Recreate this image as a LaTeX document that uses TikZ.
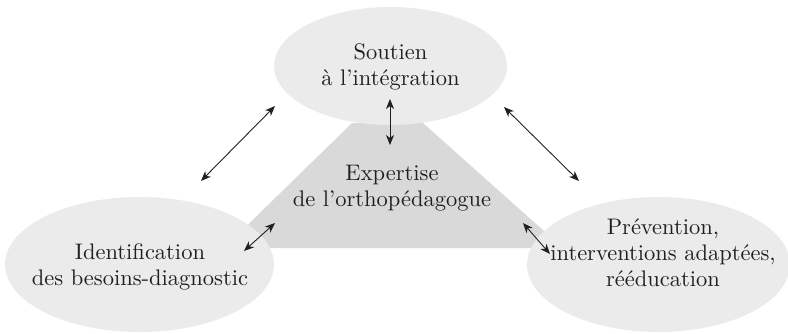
\documentclass[tikz,border=0pt]{standalone}
\usepackage{fontspec}
\setmainfont{lmroman10-regular.otf}
\usetikzlibrary{arrows.meta,shapes.geometric}
\definecolor{ellgray}{RGB}{235,235,235}
\definecolor{trapgray}{RGB}{217,217,218}
\definecolor{inkc}{RGB}{35,31,32}
\begin{document}
\begin{tikzpicture}[x=1pt,y=-1pt,
  bub/.style={ellipse, fill=ellgray, inner sep=0pt},
  lbl/.style={align=center, font=\fontsize{22.5}{26}\selectfont, inner sep=0pt, text=inkc},
  link/.style={{Stealth[length=10pt,width=8pt,inset=3pt]}-{Stealth[length=10pt,width=8pt,inset=3pt]}, line width=0.9pt, draw=inkc}]
\useasboundingbox (0,0) rectangle (788,333);
% central trapezoid
\fill[trapgray] (352,123) -- (423,123) -- (563,248) -- (224,248) -- cycle;
% ellipses
\node[bub, minimum width=233pt, minimum height=118pt] (top) at (390.5,66) {};
\node[bub, minimum width=269pt, minimum height=135pt] (left) at (139.5,264.5) {};
\node[bub, minimum width=263pt, minimum height=135pt] (right) at (658.5,264.5) {};
% labels
\node[lbl] (ttop) at (390.5,67) {Soutien\\à l’intégration};
\node[lbl] (tmid) at (392,188.5) {Expertise\\de l’orthopédagogue};
\node[lbl] (tleft) at (140,267) {Identification\\des besoins-diagnostic};
\node[lbl] (tright) at (663,253) {Prévention,\\interventions adaptées,\\rééducation};
% arrow end points
\coordinate (v1) at (390,99);
\coordinate (v2) at (390,145);
\coordinate (l1) at (201,181);
\coordinate (l2) at (275,106);
\coordinate (r1) at (504,107);
\coordinate (r2) at (579,181);
\coordinate (sl1) at (244,251);
\coordinate (sl2) at (275,223);
\coordinate (sr1) at (523,223);
\coordinate (sr2) at (550,254);
\draw[link] (v1) -- (v2);
\draw[link] (l1) -- (l2);
\draw[link] (r1) -- (r2);
\draw[link] (sl1) -- (sl2);
\draw[link] (sr1) -- (sr2);
\end{tikzpicture}
\end{document}
